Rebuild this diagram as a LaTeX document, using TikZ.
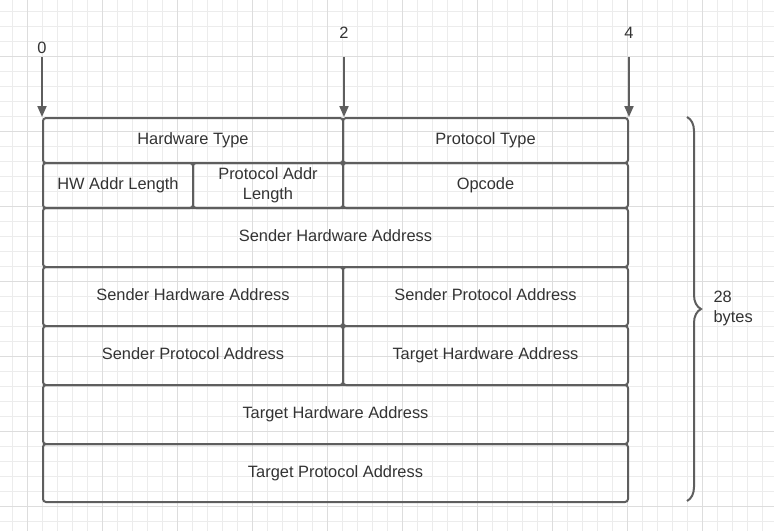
\documentclass[tikz,border=0pt]{standalone}
\usepackage{fontspec}
\setmainfont{Liberation Sans}
\usetikzlibrary{positioning,arrows.meta,decorations.pathreplacing}

\definecolor{boxline}{RGB}{94,94,94}
\definecolor{txtgray}{RGB}{51,51,51}
\definecolor{gridminor}{RGB}{236,236,236}
\definecolor{gridmajor}{RGB}{221,221,221}

\tikzset{
  field/.style={draw=boxline, line width=2pt, rounded corners=3pt, inner sep=0pt,
    text height=12pt, text depth=3.5pt,
    anchor=north west, align=center, text=txtgray, font=\fontsize{16.4}{20}\selectfont},
  offset/.style={text=txtgray, font=\fontsize{16.4}{20}\selectfont},
  marker/.style={draw=boxline, line width=2pt, -{Triangle[length=11pt,width=9pt]}},
}

\begin{document}
\begin{tikzpicture}[x=1pt,y=-1pt]
  \useasboundingbox (0,0) rectangle (774,531);
  \fill[white] (0,0) rectangle (774,531);

  % background grid
  \foreach \gx in {12.5,27.5,...,770} \draw[gridminor, line width=0.8pt] (\gx,0) -- (\gx,531);
  \foreach \gy in {11,26,...,530} \draw[gridminor, line width=0.8pt] (0,\gy) -- (774,\gy);
  \foreach \gx in {27.5,102.5,...,770} \draw[gridmajor, line width=0.9pt] (\gx,0) -- (\gx,531);
  \foreach \gy in {56,131,...,530} \draw[gridmajor, line width=0.9pt] (0,\gy) -- (774,\gy);

  \node [field, minimum width=300pt, minimum height=45pt] at (42,117) (hwtype) {Hardware Type};
  \node [field, minimum width=285pt, minimum height=45pt] at (342,117) (prottype) {Protocol Type};

  \node [field, minimum width=150pt, minimum height=45pt] at (42,162) (hwlen) {HW Addr Length};
  \node [field, minimum width=150pt, minimum height=45pt, text height=32pt] at (192,162) (protlen) {Protocol Addr\\Length};
  \node [field, minimum width=285pt, minimum height=45pt] at (342,162) (opcode) {Opcode};

  \node [field, minimum width=585pt, minimum height=59pt] at (42,207) (sha_a) {Sender Hardware Address};

  \node [field, minimum width=300pt, minimum height=59pt] at (42,266) (sha_b) {Sender Hardware Address};
  \node [field, minimum width=285pt, minimum height=59pt] at (342,266) (spa_a) {Sender Protocol Address};

  \node [field, minimum width=300pt, minimum height=59pt] at (42,325) (spa_b) {Sender Protocol Address};
  \node [field, minimum width=285pt, minimum height=59pt] at (342,325) (tha_a) {Target Hardware Address};

  \node [field, minimum width=585pt, minimum height=59pt] at (42,384) (tha_b) {Target Hardware Address};
  \node [field, minimum width=585pt, minimum height=58pt] at (42,443) (tpa) {Target Protocol Address};

  %byte offsets
  \coordinate [above=60pt of hwtype.north west] (top0);
  \coordinate [above=60pt of hwtype.north east] (top2);
  \coordinate [above=60pt of prottype.north east] (top4);

  \node [offset, above=0pt of top0] (off0) {0};
  \node [offset, above=15pt of top2] (off2) {2};
  \node [offset, above=15pt of top4] (off4) {4};

  \draw [marker] (top0) -- (hwtype.north west);
  \draw [marker] (top2) -- (hwtype.north east);
  \draw [marker] (top4) -- (prottype.north east);

  %total size
  \coordinate (braceTop) at (687,117);
  \coordinate (braceBot) at (687,501);
  \draw [boxline, line width=2pt, decorate, decoration={brace, amplitude=14pt}] (braceTop) -- (braceBot);

  \node [offset, align=left, anchor=west] at (710,308) (size) {28\\bytes};

\end{tikzpicture}
\end{document}
